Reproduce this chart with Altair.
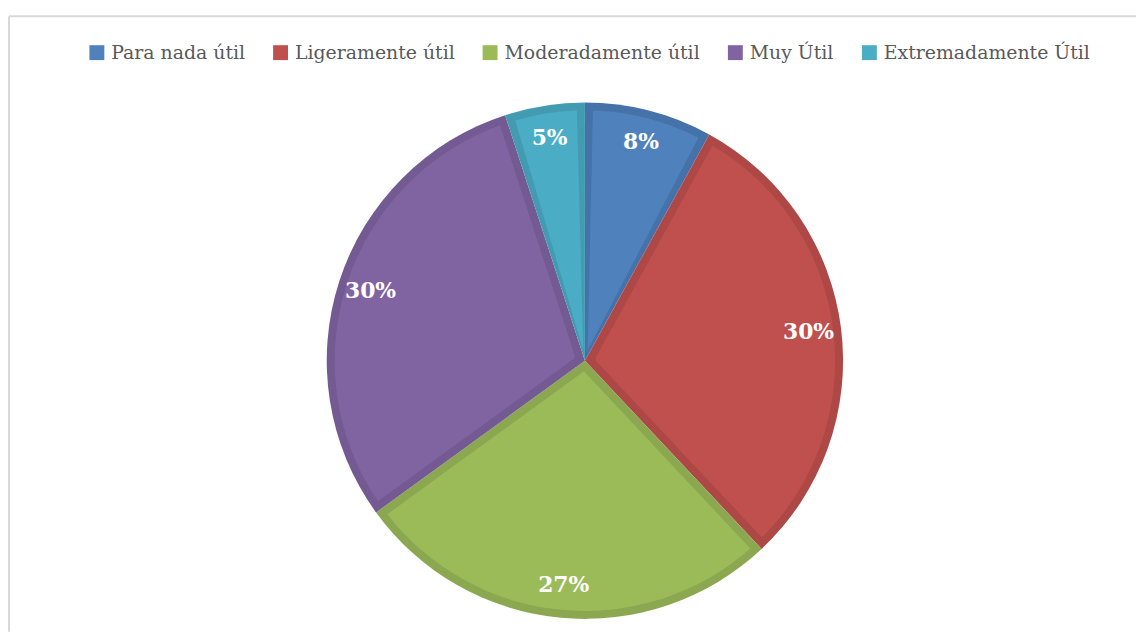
import altair as alt
import pandas as pd

categories = ["Para nada útil", "Ligeramente útil", "Moderadamente útil", "Muy Útil", "Extremadamente Útil"]
values = [8, 30, 27, 30, 5]
fill_colors = ["#4F81BD", "#C0504D", "#9BBB59", "#8064A2", "#4BACC6"]
edge_colors = ["#4672AA", "#AD4846", "#8BA850", "#735A92", "#439BB2"]

df = pd.DataFrame({"cat": categories, "value": values, "idx": list(range(len(categories)))})

W, H = 1136, 626
CX, CY = 581, 353
R_OUT, R_IN = 260, 252

base = alt.Chart(df).encode(
    theta=alt.Theta("value:Q", stack=True),
    order=alt.Order("idx:Q"),
    x=alt.value(CX),
    y=alt.value(CY),
)

edge = base.mark_arc(radius=R_OUT).encode(
    color=alt.Color("cat:N", scale=alt.Scale(domain=categories, range=edge_colors), legend=None)
)

fill = base.mark_arc(radius=R_IN, radius2=11, padAngle=0.064).encode(
    color=alt.Color(
        "cat:N",
        scale=alt.Scale(domain=categories, range=fill_colors),
        sort=categories,
        legend=alt.Legend(
            title=None,
            orient="none",
            legendX=80,
            legendY=33,
            direction="horizontal",
            symbolType="square",
            symbolSize=225,
            symbolStrokeWidth=0,
            labelFont="DejaVu Serif",
            labelFontSize=19,
            labelColor="#595959",
            labelOffset=5,
            columnPadding=26,
            labelLimit=400,
        ),
    )
)

labels = base.transform_calculate(label="datum.value + '%'").mark_text(
    radius=227, font="DejaVu Serif", fontSize=22, fontWeight="bold", color="white", baseline="middle"
).encode(text="label:N")

frame_df = pd.DataFrame({"k": [0]})
top_line = alt.Chart(frame_df).mark_rule(color="#D9D9D9", strokeWidth=2).encode(
    x=alt.value(1), x2=alt.value(W), y=alt.value(6)
)
left_line = alt.Chart(frame_df).mark_rule(color="#D9D9D9", strokeWidth=2).encode(
    x=alt.value(1), y=alt.value(6), y2=alt.value(H)
)

chart = alt.layer(edge, fill, labels, top_line, left_line).resolve_scale(color="independent").properties(
    width=W, height=H, autosize=alt.AutoSizeParams(type="none"), padding=0
).configure_view(stroke=None)

chart.save("out.html", embed_options={"renderer": "svg", "actions": False})
